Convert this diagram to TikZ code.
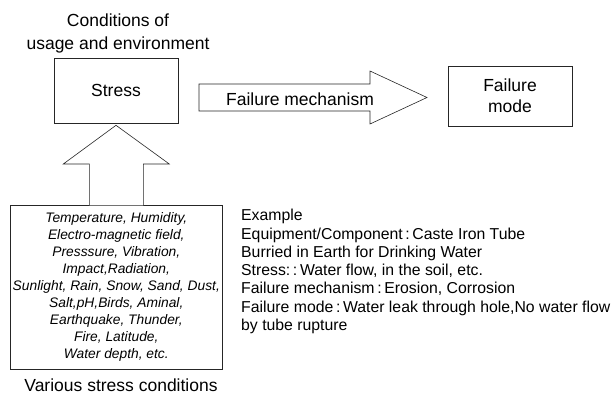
\documentclass[tikz,border=0pt]{standalone}
\usepackage{fontspec}
\setmainfont{Liberation Sans}
\newlength\tagwidth
\begin{document}
\begin{tikzpicture}[x=1pt, y=-1pt,
  outline/.style={draw=black!85, line width=0.6pt},
  labeltext/.style={font=\fontsize{17.5}{23}\selectfont, align=center, inner sep=0pt},
  blockbox/.style={outline, inner sep=0pt, font=\fontsize{17.5}{21}\selectfont, align=center},
  listtext/.style={font=\itshape\fontsize{13.8}{17}\selectfont, align=center, inner sep=0pt},
  exampletext/.style={font=\fontsize{15.8}{18.3}\selectfont, inner sep=0pt, anchor=base west},
  tagdots/.style={draw=black!40, line width=0.5pt, dash pattern=on 0.6pt off 1.2pt}]
\useasboundingbox (0,0) rectangle (612,396);

% heading above the stress block
\node[labeltext] (cond) at (118,33) {Conditions of\\usage and environment};

% main blocks
\node[blockbox, minimum width=124pt, minimum height=65pt] (stress) at (116,90.5) {Stress};
\node[blockbox, minimum width=124pt, minimum height=60pt] (mode) at (510,96) {Failure\\mode};

% list of stress conditions
\node[outline, minimum width=211.3pt, minimum height=164pt, listtext] (list) at (116.3,287)
  {Temperature, Humidity,\\
   Electro-magnetic field,\\
   Presssure, Vibration,\\
   Impact,Radiation,\\
   Sunlight, Rain, Snow, Sand, Dust,\\
   Salt,pH,Birds, Aminal,\\
   Earthquake, Thunder,\\
   Fire, Latitude,\\
   Water depth, etc.};
\node[labeltext] (various) at (121,385) {Various stress conditions};

% block arrow from the list up to the stress block
\coordinate (up tip) at ([yshift=-2pt]stress.south);
\filldraw[outline, fill=white]
  ([xshift=-27pt, yshift=-0.6pt]list.north) -- ([xshift=-27pt]list.north |- 0,164)
  -- ([xshift=-53pt]list.north |- 0,164) -- (up tip)
  -- ([xshift=53pt]list.north |- 0,164) -- ([xshift=27pt]list.north |- 0,164)
  -- ([xshift=27pt, yshift=-0.6pt]list.north);

% block arrow for the failure mechanism
\coordinate (mech tail) at (199,97.5);
\coordinate (mech tip) at (427,97.5);
\draw[outline] (mech tail |- 0,84) -- (370,84) -- (370,71) -- (mech tip)
  -- (370,124) -- (370,111) -- (mech tail |- 0,111) -- cycle;
\node[labeltext] (mech) at (300,99) {Failure mechanism};

% worked example, one node per line
\node[exampletext] (ex1) at (241,220.7) {Example};
\node[exampletext] (ex2) at (241,239.0) {Equipment/Component\,:\,Caste Iron Tube};
\node[exampletext] (ex3) at (241,257.3) {Burried in Earth for Drinking Water};
\node[exampletext] (ex4) at (241,275.6) {Stress:\,:\,Water flow, in the soil, etc.};
\node[exampletext] (ex5) at (241,293.9) {Failure mechanism\,:\,Erosion, Corrosion};
\node[exampletext] (ex6) at (241,312.2) {Failure mode\,:\,Water leak through hole,No water flow};
\node[exampletext] (ex7) at (241,330.5) {by tube rupture};

% faint dotted underlines below the key terms
\settowidth\tagwidth{\fontsize{15.8}{18.3}\selectfont Equipment/Component}
\draw[tagdots] ([yshift=-2.6pt]ex2.base west) -- ++(\tagwidth,0);
\settowidth\tagwidth{\fontsize{15.8}{18.3}\selectfont Stress:}
\draw[tagdots] ([yshift=-2.6pt]ex4.base west) -- ++(\tagwidth,0);
\settowidth\tagwidth{\fontsize{15.8}{18.3}\selectfont Failure mechanism}
\draw[tagdots] ([yshift=-2.6pt]ex5.base west) -- ++(\tagwidth,0);
\settowidth\tagwidth{\fontsize{15.8}{18.3}\selectfont Failure mode}
\draw[tagdots] ([yshift=-2.6pt]ex6.base west) -- ++(\tagwidth,0);
\end{tikzpicture}
\end{document}
